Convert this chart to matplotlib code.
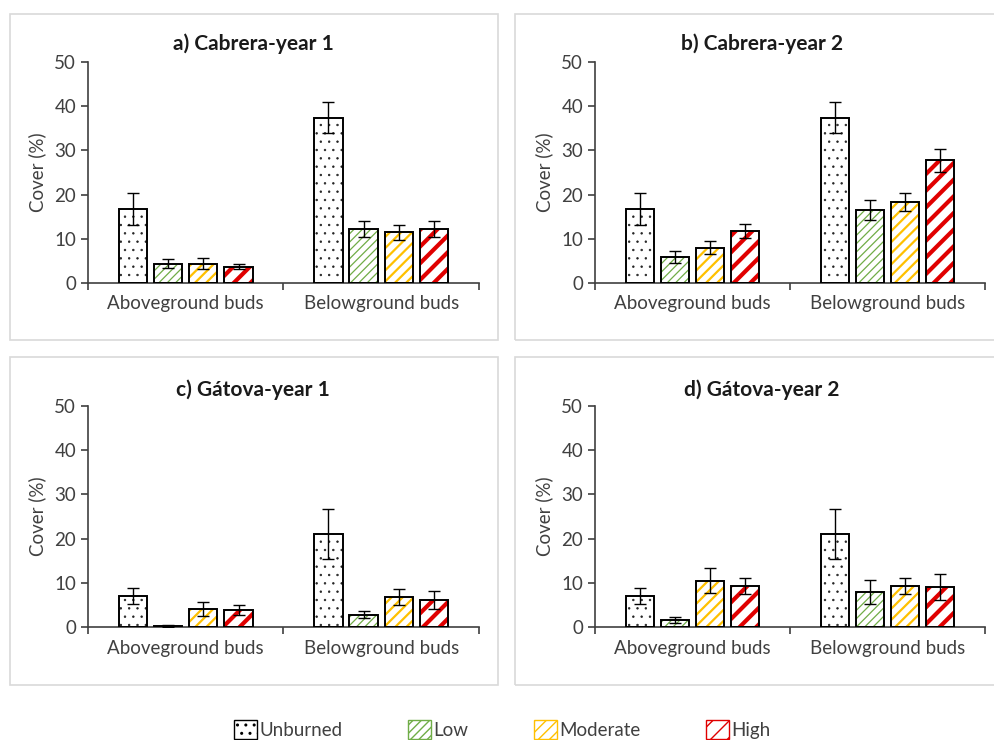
import matplotlib
matplotlib.use('Agg')
import matplotlib.pyplot as plt
from matplotlib.patches import Rectangle, Patch
import numpy as np

plt.rcParams['font.family'] = ['Lato', 'DejaVu Sans']

groups = ['Aboveground buds', 'Belowground buds']
severity = ['Unburned', 'Low', 'Moderate', 'High']
titles = ['a) Cabrera-year 1', 'b) Cabrera-year 2', 'c) Gátova-year 1', 'd) Gátova-year 2']

# mean cover (%), rows = severity, cols = [above, below]
cab1 = [[16.8, 37.4], [4.4, 12.2], [4.4, 11.5], [3.7, 12.2]]
cab1_err = [[3.6, 3.5], [1.0, 1.8], [1.2, 1.7], [0.5, 1.8]]
cab2 = [[16.8, 37.4], [5.9, 16.5], [8.0, 18.3], [11.8, 27.8]]
cab2_err = [[3.6, 3.5], [1.4, 2.2], [1.4, 2.0], [1.6, 2.6]]
gat1 = [[7.0, 21.0], [0.3, 2.8], [4.1, 6.7], [3.8, 6.1]]
gat1_err = [[1.9, 5.6], [0.2, 0.8], [1.6, 1.8], [1.1, 2.0]]
gat2 = [[7.0, 21.0], [1.6, 7.9], [10.5, 9.3], [9.3, 9.0]]
gat2_err = [[1.9, 5.6], [0.6, 2.8], [2.9, 1.9], [1.9, 2.9]]

panels = [(cab1, cab1_err), (cab2, cab2_err), (gat1, gat1_err), (gat2, gat2_err)]

hatch_col = ['#222222', '#70AD47', '#FFC000', '#E00000']
hatches = ['..', '////', '///', '//']
hatch_lw = [0.5, 0.9, 1.6, 3.0]
txt = '#404040'
fs = 13.5

fig = plt.figure(figsize=(9.95, 7.4), dpi=100)

# axes rectangles in figure fraction
ax_pos = [[0.0884, 0.6176, 0.393, 0.2986],
          [0.598, 0.6176, 0.392, 0.2986],
          [0.0884, 0.1527, 0.393, 0.2986],
          [0.598, 0.1527, 0.392, 0.2986]]
boxes = [[0.010, 0.5405, 0.4905, 0.4405],
         [0.5176, 0.5405, 0.50, 0.4405],
         [0.010, 0.0743, 0.4905, 0.4432],
         [0.5176, 0.0743, 0.50, 0.4432]]
title_xy = [(0.2545, 0.9405), (0.766, 0.9405), (0.2545, 0.4735), (0.766, 0.4735)]

x = np.arange(len(groups))
step = 0.18
width = 0.145

for i in range(4):
    fig.patches.append(Rectangle(boxes[i][:2], boxes[i][2], boxes[i][3], transform=fig.transFigure,
                                 fill=False, edgecolor='#d9d9d9', linewidth=1.2, zorder=0))
    ax = fig.add_axes(ax_pos[i])
    vals, errs = panels[i]
    for j in range(4):
        xs = x + (j - 1.5) * step
        with plt.rc_context({'hatch.linewidth': hatch_lw[j]}):
            hb = ax.bar(xs, vals[j], width, color='white', edgecolor=hatch_col[j],
                        hatch=hatches[j], linewidth=0, zorder=2)
        for p in hb:
            if hasattr(p, 'set_hatch_linewidth'):
                p.set_hatch_linewidth(hatch_lw[j])
        ax.bar(xs, vals[j], width, fill=False, edgecolor='black', linewidth=1.4, zorder=3)
        ax.errorbar(xs, vals[j], yerr=errs[j], fmt='none', ecolor='black',
                    elinewidth=1, capsize=4.5, capthick=1, zorder=4)
    ax.set_xlim(-0.5, 1.5)
    ax.set_ylim(0, 50)
    ax.set_yticks(range(0, 51, 10))
    ax.set_xticks(x)
    ax.set_xticklabels(groups, fontsize=fs, color=txt)
    ax.set_xticks([-0.5, 0.5, 1.5], minor=True)
    ax.tick_params(axis='x', which='major', length=0, pad=9)
    ax.tick_params(axis='x', which='minor', length=5, direction='out', color=txt, width=1.2)
    ax.tick_params(axis='y', length=5, direction='out', color=txt, width=1.2,
                   labelsize=fs, labelcolor=txt)
    for s in ['top', 'right']:
        ax.spines[s].set_visible(False)
    ax.spines['left'].set_color(txt)
    ax.spines['bottom'].set_color(txt)
    ax.spines['left'].set_linewidth(1.2)
    ax.spines['bottom'].set_linewidth(1.2)
    ax.set_ylabel('Cover (%)', fontsize=fs, color=txt, labelpad=6)
    fig.text(title_xy[i][0], title_xy[i][1], titles[i], ha='center', va='center',
             fontsize=15, fontweight='bold', color='#1a1a1a')

handles = []
for j in range(4):
    handles.append(Patch(facecolor='white', edgecolor=hatch_col[j] if j > 0 else 'black',
                         hatch=hatches[j], linewidth=1, label=severity[j]))
leg = fig.legend(handles=handles, loc='lower center', bbox_to_anchor=(0.505, -0.022), ncol=4,
                 frameon=False, fontsize=fs, handlelength=1.2, handleheight=1.2,
                 handletextpad=0.15, columnspacing=3.5)
for t in leg.get_texts():
    t.set_color(txt)

fig.savefig('out.png', dpi=100)
